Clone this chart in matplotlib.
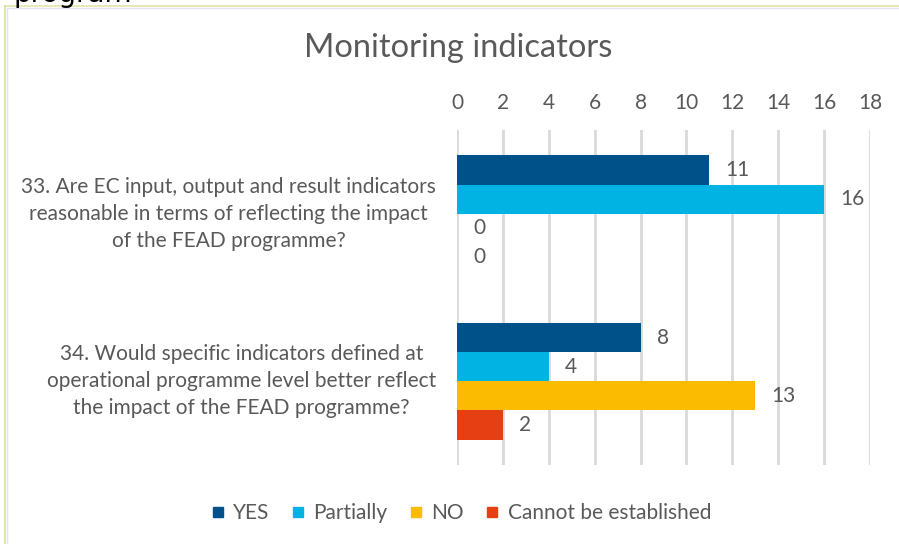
import numpy as np
import matplotlib
matplotlib.use("Agg")
import matplotlib.pyplot as plt
from matplotlib.lines import Line2D

# Data
questions = [
    "33. Are EC input, output and result indicators\nreasonable in terms of reflecting the impact\nof the FEAD programme?",
    "34. Would specific indicators defined at\noperational programme level better reflect\nthe impact of the FEAD programme?",
]
series_names = ["YES", "Partially", "NO", "Cannot be established"]
yes_vals = [11, 8]
partially_vals = [16, 4]
no_vals = [0, 13]
cannot_vals = [0, 2]
colors = ["#00508a", "#00b3e3", "#fbbb00", "#e53f13"]
x_ticks = list(range(0, 20, 2))

text_grey = "#595959"
plt.rcParams["font.family"] = ["Lato", "DejaVu Sans"]

W, H = 899, 544
fig = plt.figure(figsize=(W / 100, H / 100), dpi=100)
fig.patch.set_facecolor("white")

# plot area (pixel positions from the reference)
left, right, top, bottom = 457, 870, 130, 465
ax = fig.add_axes([left / W, 1 - bottom / H, (right - left) / W, (bottom - top) / H])

all_vals = [yes_vals, partially_vals, no_vals, cannot_vals]
y = np.arange(len(questions))
h = 0.174
for i, (vals, name, c) in enumerate(zip(all_vals, series_names, colors)):
    pos = y + (i - 1.5) * h
    bars = ax.barh(pos, vals, height=h, color=c, label=name, zorder=3)
    for b, v in zip(bars, vals):
        ax.annotate(str(v), (b.get_width(), b.get_y() + b.get_height() / 2),
                    xytext=(16, 0), textcoords="offset pixels",
                    ha="left", va="center", fontsize=15, color=text_grey)

ax.set_xlim(0, 18)
ax.set_ylim(1.5, -0.5)
ax.set_xticks(x_ticks)
ax.xaxis.tick_top()
ax.tick_params(axis="x", length=0, pad=12, labelsize=15, labelcolor=text_grey)
ax.set_yticks(y)
ax.set_yticklabels(questions, fontsize=15, color=text_grey, ma="center",
                   va="center", linespacing=1.45)
ax.tick_params(axis="y", length=0, pad=15)
ax.grid(axis="x", color="#d9d9d9", linewidth=2, zorder=0)
for s in ax.spines.values():
    s.set_visible(False)

fig.text(458 / W, 1 - 48 / H, "Monitoring indicators", ha="center", va="center",
         fontsize=23.5, color=text_grey)

handles = [Line2D([0], [0], marker="s", linestyle="none", markersize=6.5,
                  markerfacecolor=c, markeredgecolor=c) for c in colors]
fig.legend(handles, series_names, loc="center", bbox_to_anchor=(462 / W, 1 - 513 / H),
           ncol=4, frameon=False, fontsize=15, labelcolor=text_grey,
           handlelength=0.5, handletextpad=0.5, columnspacing=1.1)

# chart frame edges visible in the screenshot
fig.add_artist(Line2D([5 / W, 1], [1 - 6 / H, 1 - 6 / H], color="#e3e6a8", linewidth=1.2))
fig.add_artist(Line2D([5 / W, 5 / W], [0, 1 - 6 / H], color="#d9df9a", linewidth=1.2))
fig.add_artist(Line2D([7 / W, 1], [1 - 8 / H, 1 - 8 / H], color="#e4e4f0", linewidth=1))
fig.add_artist(Line2D([7 / W, 7 / W], [0, 1 - 8 / H], color="#e4e4f0", linewidth=1))

# cut-off text at the top edge of the screenshot
fig.text(14 / W, 1 - 2 / H, "program", ha="left", va="baseline",
         fontsize=20, color="black", family="DejaVu Sans")

fig.savefig("out.png", dpi=100, facecolor="white")
